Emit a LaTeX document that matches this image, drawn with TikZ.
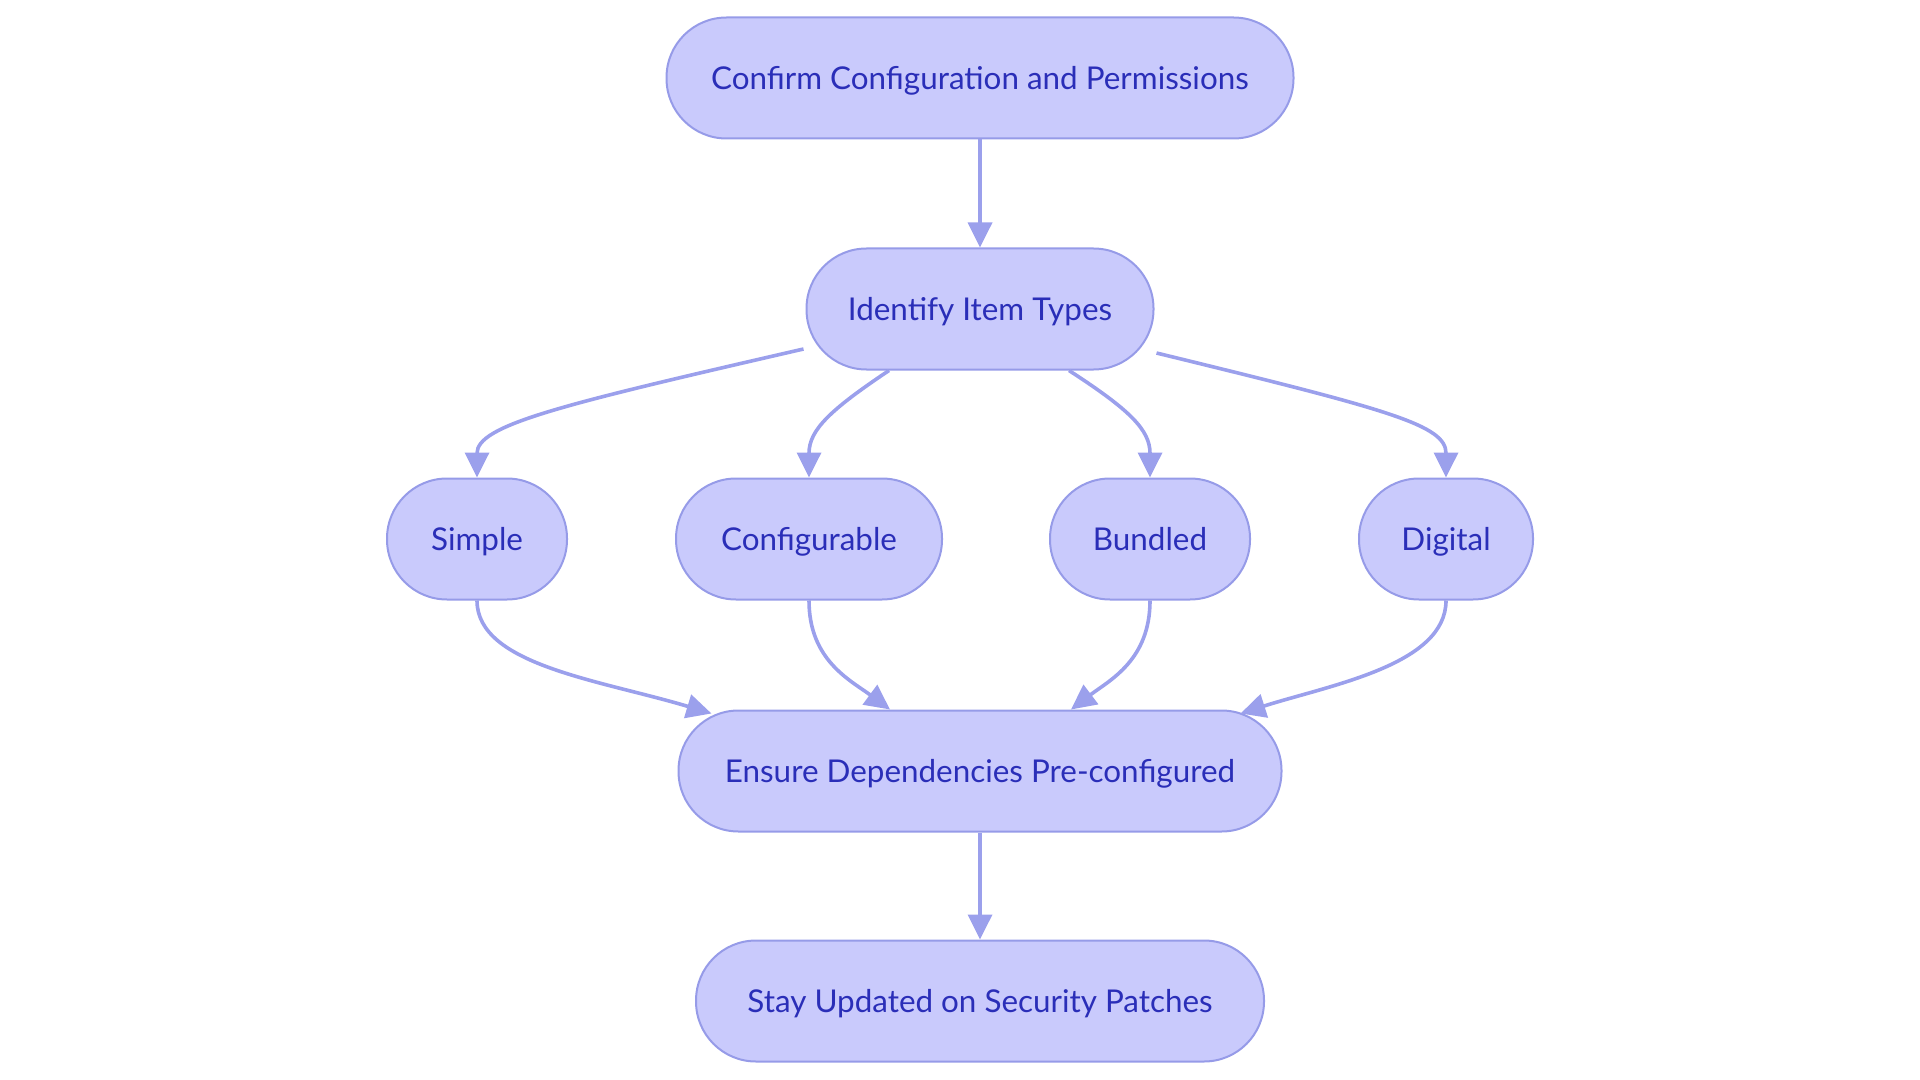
\documentclass[tikz,border=0pt]{standalone}
\usepackage{fontspec}
\setmainfont{Lato}
\usetikzlibrary{arrows.meta,calc}
\definecolor{nodefill}{RGB}{201,202,252}
\definecolor{nodeline}{RGB}{150,155,232}
\definecolor{edgecol}{RGB}{155,160,236}
\definecolor{textcol}{RGB}{42,46,184}
\tikzset{
  pill/.style={draw=nodeline, fill=nodefill, line width=1pt, rounded corners=30pt,
    minimum height=60.5pt, text=textcol, font=\fontsize{15.7}{18}\selectfont, inner sep=0pt,
    text height=1.25em, text depth=0.1em},
  link/.style={draw=edgecol, line width=1.8pt, -{Triangle[length=12.5pt,width=12pt]}}
}
\begin{document}
\begin{tikzpicture}[x=0.5pt,y=-0.5pt]
\useasboundingbox (0,0) rectangle (1920,1080);
\node[pill, minimum width=313.5pt] (conf) at (980,78) {Confirm Configuration and Permissions};
\node[pill, minimum width=173.5pt] (iden) at (980,309) {Identify Item Types};
\node[pill, minimum width=90pt] (simp) at (477,539) {Simple};
\node[pill, minimum width=133pt] (cfg) at (809,539) {Configurable};
\node[pill, minimum width=100pt] (bund) at (1150,539) {Bundled};
\node[pill, minimum width=87pt] (digi) at (1446,539) {Digital};
\node[pill, minimum width=301.5pt] (ens) at (980,771) {Ensure Dependencies Pre-configured};
\node[pill, minimum width=284pt] (stay) at (980,1001) {Stay Updated on Security Patches};

\draw[link] (conf.south) -- (iden.north);
\draw[link] ($(iden.west)+(-2,40)$) .. controls (560,405) and (477,425) .. (simp.north);
\draw[link] ($(iden.south)+(-91,0)$) .. controls (830,410) and (809,430) .. (cfg.north);
\draw[link] ($(iden.south)+(89,0)$) .. controls (1130,410) and (1150,430) .. (bund.north);
\draw[link] ($(iden.east)+(2,44)$) .. controls (1390,410) and (1446,425) .. (digi.north);
\draw[link] (simp.south) .. controls (477,665) and (600,680) .. ($(ens.north west)+(34,4)$);
\draw[link] (cfg.south) .. controls (809,660) and (850,680) .. ($(ens.north)+(-90,0)$);
\draw[link] (bund.south) .. controls (1150,660) and (1110,680) .. ($(ens.north)+(91,0)$);
\draw[link] (digi.south) .. controls (1446,665) and (1330,685) .. ($(ens.north east)+(-42,4)$);
\draw[link] (ens.south) -- (stay.north);
\end{tikzpicture}
\end{document}
